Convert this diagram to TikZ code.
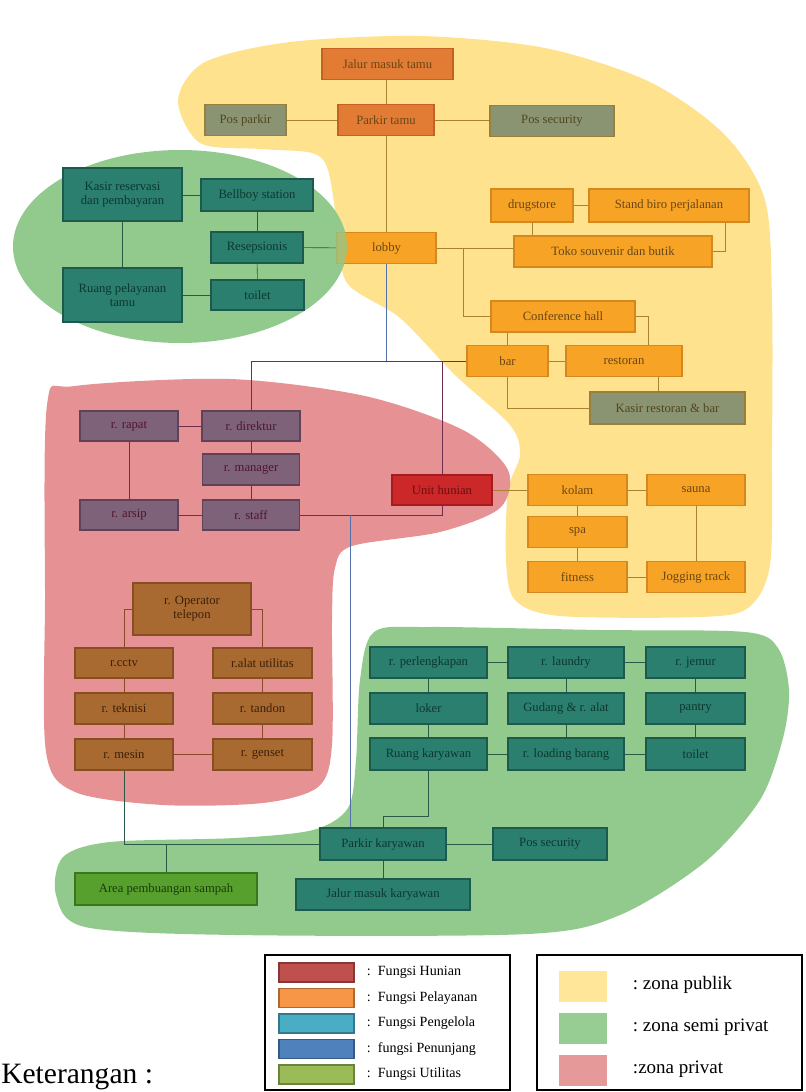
\documentclass[tikz,border=0pt]{standalone}
\usepackage{fontspec}
\setmainfont{Liberation Serif}
\usetikzlibrary{calc, backgrounds}

\newdimen\px \px=0.025cm

% warna zona
\definecolor{zonaPublik}{RGB}{254,226,142}
\definecolor{zonaSemi}{RGB}{146,201,141}
\definecolor{zonaPrivat}{RGB}{230,146,148}
% warna ruang
\definecolor{orMuda}{RGB}{247,163,38}
\definecolor{orMudaGaris}{RGB}{214,136,30}
\definecolor{orTua}{RGB}{226,124,52}
\definecolor{orTuaGaris}{RGB}{196,98,36}
\definecolor{orTeks}{RGB}{105,70,20}
\definecolor{abuPos}{RGB}{139,148,114}
\definecolor{abuPosGaris}{RGB}{150,128,60}
\definecolor{abuPosTeks}{RGB}{80,70,30}
\definecolor{toska}{RGB}{42,127,111}
\definecolor{toskaGaris}{RGB}{28,90,78}
\definecolor{toskaTeks}{RGB}{14,55,46}
\definecolor{ungu}{RGB}{125,98,122}
\definecolor{unguGaris}{RGB}{95,66,88}
\definecolor{unguTeks}{RGB}{82,20,45}
\definecolor{merahUnit}{RGB}{204,40,42}
\definecolor{merahUnitGaris}{RGB}{165,28,30}
\definecolor{merahUnitTeks}{RGB}{105,15,15}
\definecolor{coklat}{RGB}{168,106,48}
\definecolor{coklatGaris}{RGB}{135,78,34}
\definecolor{coklatTeks}{RGB}{60,32,10}
\definecolor{hijauUtil}{RGB}{88,160,45}
\definecolor{hijauUtilGaris}{RGB}{58,118,30}
\definecolor{hijauUtilTeks}{RGB}{25,60,12}
% warna garis
\definecolor{grsPublik}{RGB}{168,130,46}
\definecolor{grsBiru}{RGB}{84,112,168}
\definecolor{grsUngu}{RGB}{110,46,78}
\definecolor{grsHijau}{RGB}{40,90,70}
\definecolor{grsCoklat}{RGB}{138,74,42}
% warna keterangan
\definecolor{ketHunian}{RGB}{192,80,77}
\definecolor{ketPelayanan}{RGB}{247,150,70}
\definecolor{ketPengelola}{RGB}{75,172,198}
\definecolor{ketPenunjang}{RGB}{79,129,189}
\definecolor{ketUtilitas}{RGB}{155,187,89}
\definecolor{ketPublik}{RGB}{255,230,153}
\definecolor{ketSemi}{RGB}{151,204,146}
\definecolor{ketPrivat}{RGB}{230,153,153}

\begin{document}
\begin{tikzpicture}[x=0.025cm, y=-0.025cm, font=\fontsize{9}{10}\selectfont,
  ruang/.style={draw, line width=0.9pt, minimum height=31\px, inner sep=1pt, align=center},
  publik/.style={ruang, fill=orMuda, draw=orMudaGaris, text=orTeks},
  publikTua/.style={ruang, fill=orTua, draw=orTuaGaris, text=orTeks},
  posjaga/.style={ruang, fill=abuPos, draw=abuPosGaris, text=abuPosTeks},
  semi/.style={ruang, fill=toska, draw=toskaGaris, text=toskaTeks},
  kelola/.style={ruang, fill=ungu, draw=unguGaris, text=unguTeks},
  hunian/.style={ruang, fill=merahUnit, draw=merahUnitGaris, text=merahUnitTeks},
  utilitas/.style={ruang, fill=coklat, draw=coklatGaris, text=coklatTeks},
  sampah/.style={ruang, fill=hijauUtil, draw=hijauUtilGaris, text=hijauUtilTeks},
  garis/.style={line width=0.8pt},
  ketFont/.style={font=\fontsize{10}{11}\selectfont},
  zonaFont/.style={font=\fontsize{13.5}{15}\selectfont}]
  \useasboundingbox (0,0) rectangle (806,1092);

  % zona
  \begin{scope}[on background layer]
    \fill[zonaPublik] plot[smooth cycle, tension=0.5] coordinates {
      (178,100) (205,62) (290,42) (420,36) (545,48) (650,82) (725,135) (765,200)
      (772,300) (772,450) (770,565) (748,608) (700,617) (560,616) (515,600) (506,560)
      (508,490) (520,455) (510,425) (455,375) (400,318) (347,283) (338,230) (328,170)
      (312,153) (260,149) (200,143)};
    \fill[zonaPrivat] plot[smooth cycle, tension=0.5] coordinates {
      (47,405) (75,386) (230,379) (365,396) (463,430) (508,470) (500,508) (440,532)
      (352,546) (335,568) (332,620) (332,745) (318,787) (263,803) (163,805) (75,792)
      (46,752) (45,600)};
    \fill[zonaSemi] plot[smooth cycle, tension=0.5] coordinates {
      (374,632) (430,627) (600,630) (745,632) (778,648) (789,690) (783,738) (760,800)
      (705,862) (620,915) (528,934) (235,935) (85,927) (56,895) (63,857) (110,842)
      (235,838) (313,830) (348,808) (356,760) (360,680)};
    \fill[zonaSemi] (180,246.5) ellipse [x radius=167\px, y radius=96.5\px];
  \end{scope}

  % zona publik
  \node[publikTua, minimum width=131\px] (jalurtamu) at (387.5,64) {Jalur masuk tamu};
  \node[posjaga, minimum width=81\px] (posparkir) at (245.5,120) {Pos parkir};
  \node[publikTua, minimum width=96\px] (parkirtamu) at (386,120) {Parkir tamu};
  \node[posjaga, minimum width=124\px] (possecA) at (552,121) {Pos security};
  \node[publik, minimum width=99\px] (lobby) at (386.5,248) {lobby};
  \node[publik, minimum width=82\px, minimum height=33\px] (drugstore) at (532,205.5) {drugstore};
  \node[publik, minimum width=160\px, minimum height=33\px] (standbiro) at (669,205.5) {Stand biro perjalanan};
  \node[publik, minimum width=198\px] (toko) at (613,251.5) {Toko souvenir dan butik};
  \node[publik, minimum width=144\px] (conf) at (563,316.5) {Conference hall};
  \node[publik, minimum width=81\px] (bar) at (507.5,361) {bar};
  \node[publik, minimum width=116\px] (restoran) at (624,361) {restoran};
  \node[posjaga, minimum width=155\px, minimum height=32\px] (kasirresto) at (667.5,408) {Kasir restoran \& bar};
  \node[publik, minimum width=99\px] (kolam) at (577.5,490) {kolam};
  \node[publik, minimum width=98\px] (sauna) at (696,490) {sauna};
  \node[publik, minimum width=99\px] (spa) at (577.5,532) {spa};
  \node[publik, minimum width=99\px] (fitness) at (577.5,577) {fitness};
  \node[publik, minimum width=98\px] (jogging) at (696,577) {Jogging track};

  % zona semi privat (kiri)
  \node[semi, minimum width=119\px, minimum height=53\px] (kasirres) at (122.5,194.5) {Kasir reservasi\\dan pembayaran};
  \node[semi, minimum width=112\px, minimum height=32\px] (bellboy) at (257,195) {Bellboy station};
  \node[semi, minimum width=92\px] (resepsionis) at (257,247.5) {Resepsionis};
  \node[semi, minimum width=119\px, minimum height=54\px] (ruangpel) at (122.5,295) {Ruang pelayanan\\tamu};
  \node[semi, minimum width=93\px, minimum height=30\px] (toiletA) at (257.5,295) {toilet};

  % zona privat
  \node[kelola, minimum width=98\px, minimum height=30\px] (rapat) at (129,426) {r. rapat};
  \node[kelola, minimum width=98\px, minimum height=30\px] (direktur) at (251,426) {r. direktur};
  \node[kelola, minimum width=97\px] (manager) at (251,469.5) {r. manager};
  \node[kelola, minimum width=98\px, minimum height=30\px] (arsip) at (129,515) {r. arsip};
  \node[kelola, minimum width=97\px, minimum height=30\px] (staff) at (251,515) {r. staff};
  \node[hunian, minimum width=100\px, minimum height=30\px] (unit) at (442,490) {Unit hunian};
  \node[utilitas, minimum width=118\px, minimum height=52\px] (operator) at (192,609) {r. Operator\\telepon};
  \node[utilitas, minimum width=98\px, minimum height=30\px] (cctv) at (124,663) {r.cctv};
  \node[utilitas, minimum width=99\px, minimum height=30\px] (alat) at (262.5,663) {r.alat utilitas};
  \node[utilitas, minimum width=98\px] (teknisi) at (124,708.5) {r. teknisi};
  \node[utilitas, minimum width=99\px] (tandon) at (262.5,708.5) {r. tandon};
  \node[utilitas, minimum width=98\px] (mesin) at (124,754.5) {r. mesin};
  \node[utilitas, minimum width=99\px] (genset) at (262.5,754.5) {r. genset};

  % zona semi privat (bawah)
  \node[semi, minimum width=117\px] (perl) at (428.5,662.5) {r. perlengkapan};
  \node[semi, minimum width=116\px] (laundry) at (566,662.5) {r. laundry};
  \node[semi, minimum width=99\px] (jemur) at (695.5,662.5) {r. jemur};
  \node[semi, minimum width=117\px] (loker) at (428.5,708.5) {loker};
  \node[semi, minimum width=116\px] (gudang) at (566,708.5) {Gudang \& r. alat};
  \node[semi, minimum width=99\px] (pantry) at (695.5,708.5) {pantry};
  \node[semi, minimum width=117\px, minimum height=32\px] (ruangkary) at (428.5,754) {Ruang karyawan};
  \node[semi, minimum width=116\px, minimum height=32\px] (loading) at (566,754) {r. loading barang};
  \node[semi, minimum width=99\px, minimum height=32\px] (toiletB) at (695.5,754) {toilet};
  \node[semi, minimum width=126\px, minimum height=32\px] (parkirkary) at (383,844) {Parkir karyawan};
  \node[semi, minimum width=114\px, minimum height=32\px] (possecB) at (550,844) {Pos security};
  \node[sampah, minimum width=182\px, minimum height=32\px] (area) at (166,889) {Area pembuangan sampah};
  \node[semi, minimum width=174\px, minimum height=31\px] (jalurkary) at (383,894.5) {Jalur masuk karyawan};

  % titik belok
  \coordinate (sbT) at (725,222);
  \coordinate (cr) at (648,0);
  \coordinate (rk) at (658,0);
  \coordinate (lc) at (463,0);
  \coordinate (st) at (350,0);

  % hubungan
  \begin{scope}[on background layer, garis]
    \draw[grsPublik] (parkirtamu.north) -- (parkirtamu.north |- jalurtamu.south);
    \draw[grsPublik] (posparkir) -- (parkirtamu);
    \draw[grsPublik] (parkirtamu) -- (possecA.west |- parkirtamu.east);
    \draw[grsPublik] (parkirtamu.south) -- (parkirtamu.south |- lobby.north);
    \draw[grsPublik] (lobby.east) -- (lobby.east -| toko.west);
    \draw[grsPublik] (lc |- lobby.east) |- (conf.west);
    \draw[grsPublik] (drugstore) -- (standbiro);
    \draw[grsPublik] (drugstore.south) -- (drugstore.south |- toko.north);
    \draw[grsPublik] (sbT) |- (toko.east);
    \draw[grsPublik] (bar.north) -- (bar.north |- conf.south);
    \draw[grsPublik] (conf.east) -| (cr |- restoran.north);
    \draw[grsPublik] (bar) -- (restoran);
    \draw[grsPublik] (rk |- restoran.south) -- (rk |- kasirresto.north);
    \draw[grsPublik] (bar.south) |- (kasirresto.west);
    \draw[grsPublik] (unit) -- (kolam);
    \draw[grsPublik] (kolam) -- (sauna);
    \draw[grsPublik] (kolam) -- (spa);
    \draw[grsPublik] (spa) -- (fitness);
    \draw[grsPublik] (sauna) -- (jogging);
    \draw[grsPublik] (fitness) -- (jogging);

    \draw[grsHijau] (kasirres.east |- bellboy.west) -- (bellboy.west);
    \draw[grsHijau] (bellboy) -- (resepsionis);
    \draw[grsHijau] (resepsionis) -- (toiletA);
    \draw[grsHijau] (kasirres) -- (ruangpel);
    \draw[grsHijau] (ruangpel) -- (toiletA);
    \draw[grsHijau] (resepsionis) -- (lobby);

    \draw[grsBiru] (lobby.south) -- (lobby.south |- bar.west);
    \draw[grsUngu] (direktur.north) |- (bar.west);
    \draw[grsUngu] (staff.east) -| (unit.north |- bar.west);
    \draw[grsBiru] (st |- staff.east) -- (st |- parkirkary.north);
    \draw[grsUngu] (rapat) -- (direktur);
    \draw[grsUngu] (direktur) -- (manager);
    \draw[grsUngu] (manager) -- (staff);
    \draw[grsUngu] (rapat) -- (arsip);
    \draw[grsUngu] (arsip) -- (staff);

    \draw[grsCoklat] (operator.west) -| (cctv.north);
    \draw[grsCoklat] (operator.east) -| (alat.north);
    \draw[grsCoklat] (cctv) -- (teknisi);
    \draw[grsCoklat] (teknisi) -- (mesin);
    \draw[grsCoklat] (alat) -- (tandon);
    \draw[grsCoklat] (tandon) -- (genset);
    \draw[grsCoklat] (mesin) -- (genset);
    \draw[grsHijau] (mesin.south) |- (parkirkary.west);
    \draw[grsHijau] (area.north) -- (area.north |- parkirkary.west);

    \draw[grsHijau] (perl) -- (laundry);
    \draw[grsHijau] (laundry) -- (jemur);
    \draw[grsHijau] (perl) -- (loker);
    \draw[grsHijau] (loker) -- (ruangkary);
    \draw[grsHijau] (laundry) -- (gudang);
    \draw[grsHijau] (gudang) -- (loading);
    \draw[grsHijau] (jemur) -- (pantry);
    \draw[grsHijau] (pantry) -- (toiletB);
    \draw[grsHijau] (ruangkary) -- (loading);
    \draw[grsHijau] (loading) -- (toiletB);
    \draw[grsHijau] (ruangkary.south) -- ++(0,46) -| (parkirkary.north);
    \draw[grsHijau] (parkirkary) -- (possecB);
    \draw[grsHijau] (parkirkary) -- (jalurkary);
  \end{scope}

  % lobby tertutup zona semi privat
  \begin{scope}
    \clip (180,246.5) ellipse [x radius=167\px, y radius=96.5\px];
    \fill[zonaSemi, opacity=0.75] (lobby.south west) rectangle (lobby.north east);
  \end{scope}

  % keterangan
  \node[anchor=base west, inner sep=0pt, font=\fontsize{21}{24}\selectfont] (keterangan) at (1,1083) {Keterangan :};
  \draw[line width=1pt] (265,955) rectangle (510,1090);
  \foreach \warna/\teks [count=\i] in {ketHunian/Fungsi Hunian, ketPelayanan/Fungsi Pelayanan,
      ketPengelola/Fungsi Pengelola, ketPenunjang/fungsi Penunjang, ketUtilitas/Fungsi Utilitas} {
    \draw[fill=\warna, draw=\warna!70!black, line width=0.8pt] (279,{963+25.5*(\i-1)}) rectangle ++(75,19);
    \node[ketFont, anchor=west] (fungsi\i) at (362,{972.5+25.5*(\i-1)}) {:\ \ \teks};
  }
  \draw[line width=1pt] (537,955) rectangle (802,1090);
  \foreach \warna/\teks [count=\i] in {ketPublik/{:\ zona publik}, ketSemi/{:\ zona semi privat},
      ketPrivat/{:zona privat}} {
    \fill[\warna] (559,{971+42*(\i-1)}) rectangle ++(48,31);
    \node[zonaFont, anchor=west] (zona\i) at (628,{985+42*(\i-1)}) {\teks};
  }
\end{tikzpicture}
\end{document}
